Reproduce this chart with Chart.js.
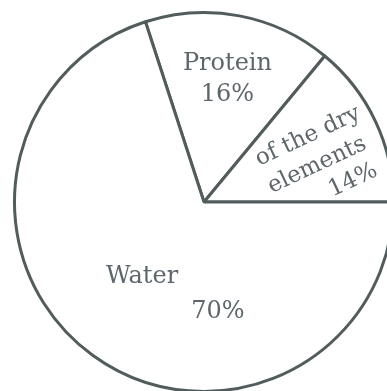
<!DOCTYPE html>
<html>
<head>
<meta charset="utf-8">
<script src="https://cdn.jsdelivr.net/npm/chart.js@4.4.1/dist/chart.umd.min.js"></script>
<style>
  html, body { margin: 0; padding: 0; background: #ffffff; overflow: hidden; width: 387px; height: 391px; }
  #wrap { position: absolute; left: 0; top: 0; width: 408px; height: 404px; }
</style>
</head>
<body>
<div id="wrap"><canvas id="c"></canvas></div>
<script>
// ---- data ----
const categories = ['Protein', 'of the dry elements', 'Water'];
const shares = [16, 14, 70];
const labelLines = [
  ['Protein'],
  ['of the dry', 'elements'],
  ['Water']
];

const INK = '#525c5d';
const TEXT = '#5d676b';
const FONT = '"DejaVu Serif", "Liberation Serif", serif';

// label layout per slice (styling only)
const labelLayout = [
  { mode: 'polar', radial: 0.66, lines: [[0, -15.5], [0, 15.5]], size: 24 },
  { mode: 'frame', lines: [[122, -15], [118, 15], [144, 44]], size: 23 },
  { mode: 'fixed', lines: [[-62, 75], [14, 110]], size: 24 }
];

const labelPlugin = {
  id: 'sliceLabels',
  afterDatasetsDraw(chart) {
    const ctx = chart.ctx;
    const arcs = chart.getDatasetMeta(0).data;
    arcs.forEach((arc, i) => {
      const { x, y, startAngle, endAngle, outerRadius } = arc.getProps(['x', 'y', 'startAngle', 'endAngle', 'outerRadius'], true);
      const mid = (startAngle + endAngle) / 2;
      const texts = labelLines[i].concat([shares[i] + '%']);
      const lay = labelLayout[i];
      ctx.save();
      ctx.fillStyle = TEXT;
      ctx.font = lay.size + 'px ' + FONT;
      ctx.textAlign = 'center';
      ctx.textBaseline = 'middle';
      if (lay.mode === 'polar') {
        const ax = x + Math.cos(mid) * outerRadius * lay.radial;
        const ay = y + Math.sin(mid) * outerRadius * lay.radial;
        texts.forEach((t, k) => ctx.fillText(t, ax + lay.lines[k][0], ay + lay.lines[k][1]));
      } else if (lay.mode === 'frame') {
        ctx.translate(x, y);
        ctx.rotate(mid);
        texts.forEach((t, k) => ctx.fillText(t, lay.lines[k][0], lay.lines[k][1]));
      } else {
        texts.forEach((t, k) => ctx.fillText(t, x + lay.lines[k][0], y + lay.lines[k][1]));
      }
      ctx.restore();
    });
  }
};

new Chart(document.getElementById('c'), {
  type: 'pie',
  data: {
    labels: categories,
    datasets: [{
      data: shares,
      backgroundColor: '#ffffff',
      borderColor: INK,
      borderWidth: 3,
      hoverOffset: 0
    }]
  },
  options: {
    responsive: true,
    maintainAspectRatio: false,
    animation: false,
    events: [],
    rotation: -18,
    layout: { padding: { left: 13, right: 13, top: 11, bottom: 11 } },
    plugins: {
      legend: { display: false },
      tooltip: { enabled: false }
    }
  },
  plugins: [labelPlugin]
});
</script>
</body>
</html>
